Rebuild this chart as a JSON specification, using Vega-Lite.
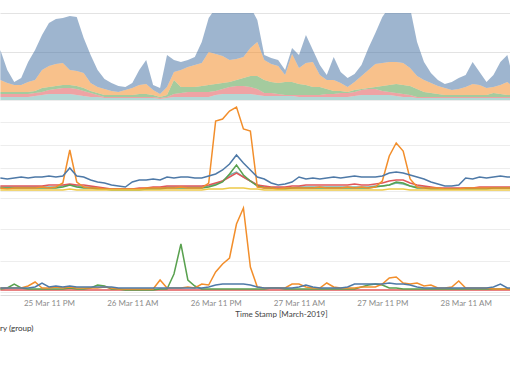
{
"$schema": "https://vega.github.io/schema/vega-lite/v6.json",
"padding": {"top": 13, "left": 0, "right": 0, "bottom": 0},
"background": "white",
"spacing": 0,
"title": {"text": "ry (group)", "orient": "bottom", "anchor": "start", "fontSize": 8, "fontWeight": "normal", "color": "#333333", "font": "Lato", "offset": 7},
"datasets": {
"area": [
{"t":"2019-03-25T16:00","A":3,"B":3,"C":2,"D":12,"E":30},
{"t":"2019-03-25T17:00","A":3,"B":3,"C":2,"D":9,"E":13},
{"t":"2019-03-25T18:00","A":3,"B":3,"C":2,"D":7,"E":3},
{"t":"2019-03-25T19:00","A":3,"B":3,"C":2,"D":7,"E":7},
{"t":"2019-03-25T20:00","A":3,"B":3,"C":2,"D":10,"E":20},
{"t":"2019-03-25T21:00","A":4,"B":3,"C":2,"D":11,"E":30},
{"t":"2019-03-25T22:00","A":5,"B":3,"C":4,"D":18,"E":35},
{"t":"2019-03-25T23:00","A":6,"B":4,"C":3,"D":21,"E":43},
{"t":"2019-03-26T00:00","A":6,"B":5,"C":3,"D":22,"E":45},
{"t":"2019-03-26T01:00","A":6,"B":6,"C":3,"D":22,"E":45},
{"t":"2019-03-26T02:00","A":6,"B":6,"C":3,"D":15,"E":54},
{"t":"2019-03-26T03:00","A":5,"B":6,"C":3,"D":15,"E":54},
{"t":"2019-03-26T04:00","A":4,"B":5,"C":3,"D":15,"E":35},
{"t":"2019-03-26T05:00","A":3,"B":4,"C":2,"D":8,"E":28},
{"t":"2019-03-26T06:00","A":3,"B":2,"C":2,"D":6,"E":17},
{"t":"2019-03-26T07:00","A":2,"B":1,"C":2,"D":6,"E":10},
{"t":"2019-03-26T08:00","A":2,"B":1,"C":2,"D":4,"E":8},
{"t":"2019-03-26T09:00","A":2,"B":1,"C":2,"D":3,"E":6},
{"t":"2019-03-26T10:00","A":2,"B":1,"C":2,"D":5,"E":3},
{"t":"2019-03-26T11:00","A":2,"B":1,"C":2,"D":7,"E":5},
{"t":"2019-03-26T12:00","A":2,"B":1,"C":3,"D":9,"E":15},
{"t":"2019-03-26T13:00","A":2,"B":1,"C":3,"D":10,"E":24},
{"t":"2019-03-26T14:00","A":2,"B":1,"C":2,"D":5,"E":5},
{"t":"2019-03-26T15:00","A":1,"B":1,"C":1,"D":3,"E":6},
{"t":"2019-03-26T16:00","A":2,"B":1,"C":2,"D":8,"E":32},
{"t":"2019-03-26T17:00","A":3,"B":3,"C":14,"D":8,"E":12},
{"t":"2019-03-26T18:00","A":3,"B":4,"C":6,"D":17,"E":8},
{"t":"2019-03-26T19:00","A":3,"B":5,"C":5,"D":20,"E":7},
{"t":"2019-03-26T20:00","A":3,"B":5,"C":5,"D":22,"E":8},
{"t":"2019-03-26T21:00","A":3,"B":5,"C":6,"D":23,"E":21},
{"t":"2019-03-26T22:00","A":3,"B":5,"C":7,"D":33,"E":34},
{"t":"2019-03-26T23:00","A":5,"B":4,"C":7,"D":30,"E":46},
{"t":"2019-03-27T00:00","A":6,"B":5,"C":6,"D":27,"E":51},
{"t":"2019-03-27T01:00","A":6,"B":7,"C":5,"D":22,"E":56},
{"t":"2019-03-27T02:00","A":6,"B":8,"C":6,"D":21,"E":56},
{"t":"2019-03-27T03:00","A":6,"B":8,"C":8,"D":21,"E":52},
{"t":"2019-03-27T04:00","A":6,"B":7,"C":11,"D":28,"E":41},
{"t":"2019-03-27T05:00","A":5,"B":6,"C":13,"D":34,"E":22},
{"t":"2019-03-27T06:00","A":4,"B":3,"C":13,"D":20,"E":5},
{"t":"2019-03-27T07:00","A":4,"B":3,"C":11,"D":18,"E":6},
{"t":"2019-03-27T08:00","A":4,"B":2,"C":11,"D":17,"E":6},
{"t":"2019-03-27T09:00","A":4,"B":1,"C":13,"D":7,"E":5},
{"t":"2019-03-27T10:00","A":4,"B":1,"C":13,"D":28,"E":6},
{"t":"2019-03-27T11:00","A":3,"B":2,"C":11,"D":16,"E":13},
{"t":"2019-03-27T12:00","A":3,"B":2,"C":10,"D":22,"E":28},
{"t":"2019-03-27T13:00","A":3,"B":2,"C":8,"D":25,"E":12},
{"t":"2019-03-27T14:00","A":3,"B":2,"C":8,"D":12,"E":10},
{"t":"2019-03-27T15:00","A":3,"B":3,"C":5,"D":9,"E":5},
{"t":"2019-03-27T16:00","A":3,"B":3,"C":3,"D":11,"E":23},
{"t":"2019-03-27T17:00","A":3,"B":4,"C":2,"D":8,"E":11},
{"t":"2019-03-27T18:00","A":3,"B":4,"C":1,"D":5,"E":9},
{"t":"2019-03-27T19:00","A":4,"B":4,"C":2,"D":8,"E":8},
{"t":"2019-03-27T20:00","A":5,"B":5,"C":1,"D":13,"E":11},
{"t":"2019-03-27T21:00","A":5,"B":6,"C":1,"D":18,"E":22},
{"t":"2019-03-27T22:00","A":5,"B":6,"C":2,"D":23,"E":31},
{"t":"2019-03-27T23:00","A":5,"B":4,"C":5,"D":23,"E":46},
{"t":"2019-03-28T00:00","A":5,"B":3,"C":7,"D":23,"E":55},
{"t":"2019-03-28T01:00","A":4,"B":3,"C":9,"D":22,"E":58},
{"t":"2019-03-28T02:00","A":3,"B":3,"C":9,"D":22,"E":58},
{"t":"2019-03-28T03:00","A":3,"B":2,"C":9,"D":18,"E":60},
{"t":"2019-03-28T04:00","A":2,"B":1,"C":8,"D":13,"E":34},
{"t":"2019-03-28T05:00","A":2,"B":1,"C":5,"D":12,"E":18},
{"t":"2019-03-28T06:00","A":2,"B":1,"C":4,"D":10,"E":10},
{"t":"2019-03-28T07:00","A":2,"B":1,"C":3,"D":8,"E":6},
{"t":"2019-03-28T08:00","A":2,"B":1,"C":2,"D":7,"E":4},
{"t":"2019-03-28T09:00","A":2,"B":1,"C":2,"D":5,"E":8},
{"t":"2019-03-28T10:00","A":2,"B":1,"C":2,"D":6,"E":11},
{"t":"2019-03-28T11:00","A":2,"B":1,"C":2,"D":8,"E":12},
{"t":"2019-03-28T12:00","A":2,"B":1,"C":2,"D":11,"E":22},
{"t":"2019-03-28T13:00","A":2,"B":1,"C":2,"D":10,"E":13},
{"t":"2019-03-28T14:00","A":2,"B":1,"C":2,"D":7,"E":6},
{"t":"2019-03-28T15:00","A":2,"B":1,"C":4,"D":6,"E":12},
{"t":"2019-03-28T16:00","A":2,"B":1,"C":3,"D":9,"E":23},
{"t":"2019-03-28T17:00","A":2,"B":1,"C":2,"D":13,"E":27},
{"t":"2019-03-28T18:00","A":2,"B":1,"C":2,"D":7,"E":5}
],
"lines": [
{"t":"2019-03-25T16:00","A":4,"B":5,"C":3,"D":3,"E":13,"F":1},
{"t":"2019-03-25T17:00","A":4,"B":5,"C":3,"D":2,"E":12,"F":1},
{"t":"2019-03-25T18:00","A":4,"B":5,"C":3,"D":3,"E":13,"F":1},
{"t":"2019-03-25T19:00","A":4,"B":5,"C":3,"D":3,"E":14,"F":1},
{"t":"2019-03-25T20:00","A":4,"B":5,"C":3,"D":3,"E":13,"F":1},
{"t":"2019-03-25T21:00","A":4,"B":5,"C":3,"D":3,"E":14,"F":1},
{"t":"2019-03-25T22:00","A":4,"B":5,"C":3,"D":4,"E":14,"F":1},
{"t":"2019-03-25T23:00","A":4,"B":6,"C":3,"D":3,"E":15,"F":1},
{"t":"2019-03-26T00:00","A":4,"B":6,"C":3,"D":4,"E":14,"F":1},
{"t":"2019-03-26T01:00","A":5,"B":6,"C":4,"D":8,"E":15,"F":1},
{"t":"2019-03-26T02:00","A":6,"B":7,"C":6,"D":41,"E":23,"F":2},
{"t":"2019-03-26T03:00","A":5,"B":6,"C":4,"D":9,"E":15,"F":1},
{"t":"2019-03-26T04:00","A":4,"B":6,"C":3,"D":4,"E":14,"F":1},
{"t":"2019-03-26T05:00","A":4,"B":5,"C":3,"D":3,"E":11,"F":1},
{"t":"2019-03-26T06:00","A":3,"B":4,"C":2,"D":3,"E":9,"F":1},
{"t":"2019-03-26T07:00","A":2,"B":3,"C":2,"D":2,"E":8,"F":1},
{"t":"2019-03-26T08:00","A":2,"B":2,"C":1,"D":2,"E":6,"F":1},
{"t":"2019-03-26T09:00","A":2,"B":2,"C":1,"D":2,"E":5,"F":1},
{"t":"2019-03-26T10:00","A":2,"B":2,"C":1,"D":2,"E":4,"F":1},
{"t":"2019-03-26T11:00","A":2,"B":2,"C":1,"D":2,"E":9,"F":1},
{"t":"2019-03-26T12:00","A":2,"B":3,"C":1,"D":2,"E":11,"F":1},
{"t":"2019-03-26T13:00","A":2,"B":3,"C":2,"D":3,"E":11,"F":1},
{"t":"2019-03-26T14:00","A":3,"B":4,"C":2,"D":3,"E":12,"F":1},
{"t":"2019-03-26T15:00","A":3,"B":4,"C":2,"D":3,"E":11,"F":1},
{"t":"2019-03-26T16:00","A":4,"B":5,"C":3,"D":3,"E":14,"F":1},
{"t":"2019-03-26T17:00","A":4,"B":5,"C":3,"D":3,"E":13,"F":1},
{"t":"2019-03-26T18:00","A":4,"B":5,"C":3,"D":4,"E":14,"F":1},
{"t":"2019-03-26T19:00","A":4,"B":5,"C":3,"D":3,"E":14,"F":1},
{"t":"2019-03-26T20:00","A":4,"B":5,"C":3,"D":3,"E":13,"F":1},
{"t":"2019-03-26T21:00","A":4,"B":5,"C":3,"D":3,"E":13,"F":1},
{"t":"2019-03-26T22:00","A":5,"B":6,"C":4,"D":8,"E":15,"F":2},
{"t":"2019-03-26T23:00","A":7,"B":8,"C":6,"D":70,"E":17,"F":2},
{"t":"2019-03-27T00:00","A":10,"B":10,"C":9,"D":72,"E":21,"F":2},
{"t":"2019-03-27T01:00","A":16,"B":14,"C":17,"D":80,"E":27,"F":3},
{"t":"2019-03-27T02:00","A":19,"B":18,"C":26,"D":84,"E":36,"F":3},
{"t":"2019-03-27T03:00","A":14,"B":14,"C":16,"D":62,"E":28,"F":3},
{"t":"2019-03-27T04:00","A":10,"B":10,"C":10,"D":60,"E":21,"F":2},
{"t":"2019-03-27T05:00","A":6,"B":6,"C":5,"D":4,"E":14,"F":2},
{"t":"2019-03-27T06:00","A":4,"B":5,"C":3,"D":3,"E":12,"F":1},
{"t":"2019-03-27T07:00","A":3,"B":4,"C":3,"D":3,"E":8,"F":1},
{"t":"2019-03-27T08:00","A":3,"B":4,"C":2,"D":2,"E":6,"F":1},
{"t":"2019-03-27T09:00","A":3,"B":4,"C":2,"D":3,"E":7,"F":1},
{"t":"2019-03-27T10:00","A":3,"B":5,"C":3,"D":3,"E":9,"F":1},
{"t":"2019-03-27T11:00","A":4,"B":5,"C":3,"D":3,"E":14,"F":1},
{"t":"2019-03-27T12:00","A":4,"B":6,"C":3,"D":3,"E":12,"F":1},
{"t":"2019-03-27T13:00","A":4,"B":6,"C":3,"D":3,"E":13,"F":1},
{"t":"2019-03-27T14:00","A":4,"B":6,"C":3,"D":4,"E":12,"F":1},
{"t":"2019-03-27T15:00","A":4,"B":6,"C":3,"D":3,"E":13,"F":1},
{"t":"2019-03-27T16:00","A":4,"B":6,"C":3,"D":3,"E":14,"F":1},
{"t":"2019-03-27T17:00","A":4,"B":6,"C":3,"D":3,"E":13,"F":1},
{"t":"2019-03-27T18:00","A":4,"B":6,"C":3,"D":4,"E":14,"F":1},
{"t":"2019-03-27T19:00","A":4,"B":7,"C":3,"D":3,"E":15,"F":1},
{"t":"2019-03-27T20:00","A":4,"B":6,"C":3,"D":4,"E":14,"F":1},
{"t":"2019-03-27T21:00","A":4,"B":6,"C":3,"D":3,"E":14,"F":1},
{"t":"2019-03-27T22:00","A":5,"B":7,"C":4,"D":4,"E":14,"F":1},
{"t":"2019-03-27T23:00","A":5,"B":8,"C":5,"D":10,"E":15,"F":1},
{"t":"2019-03-28T00:00","A":6,"B":10,"C":6,"D":35,"E":18,"F":2},
{"t":"2019-03-28T01:00","A":8,"B":11,"C":9,"D":48,"E":19,"F":2},
{"t":"2019-03-28T02:00","A":7,"B":11,"C":8,"D":40,"E":18,"F":2},
{"t":"2019-03-28T03:00","A":5,"B":8,"C":5,"D":12,"E":16,"F":1},
{"t":"2019-03-28T04:00","A":4,"B":6,"C":3,"D":4,"E":14,"F":1},
{"t":"2019-03-28T05:00","A":4,"B":5,"C":3,"D":3,"E":12,"F":1},
{"t":"2019-03-28T06:00","A":3,"B":4,"C":2,"D":3,"E":9,"F":1},
{"t":"2019-03-28T07:00","A":3,"B":3,"C":2,"D":3,"E":7,"F":1},
{"t":"2019-03-28T08:00","A":2,"B":3,"C":2,"D":2,"E":5,"F":1},
{"t":"2019-03-28T09:00","A":2,"B":3,"C":2,"D":2,"E":5,"F":1},
{"t":"2019-03-28T10:00","A":2,"B":3,"C":2,"D":2,"E":6,"F":1},
{"t":"2019-03-28T11:00","A":3,"B":3,"C":2,"D":3,"E":13,"F":1},
{"t":"2019-03-28T12:00","A":3,"B":3,"C":2,"D":3,"E":12,"F":1},
{"t":"2019-03-28T13:00","A":3,"B":4,"C":2,"D":3,"E":14,"F":1},
{"t":"2019-03-28T14:00","A":3,"B":4,"C":2,"D":3,"E":13,"F":1},
{"t":"2019-03-28T15:00","A":3,"B":4,"C":3,"D":3,"E":14,"F":1},
{"t":"2019-03-28T16:00","A":3,"B":4,"C":3,"D":3,"E":15,"F":1},
{"t":"2019-03-28T17:00","A":3,"B":4,"C":3,"D":3,"E":14,"F":1},
{"t":"2019-03-28T18:00","A":3,"B":4,"C":3,"D":3,"E":14,"F":1}
],
"spikes": [
{"t":"2019-03-25T16:00","B":2,"C":3,"D":4,"E":4},
{"t":"2019-03-25T17:00","B":2,"C":4,"D":4,"E":4},
{"t":"2019-03-25T18:00","B":2,"C":8,"D":4,"E":4},
{"t":"2019-03-25T19:00","B":2,"C":4,"D":4,"E":4},
{"t":"2019-03-25T20:00","B":2,"C":3,"D":6,"E":4},
{"t":"2019-03-25T21:00","B":2,"C":3,"D":10,"E":5},
{"t":"2019-03-25T22:00","B":2,"C":3,"D":4,"E":9},
{"t":"2019-03-25T23:00","B":2,"C":3,"D":4,"E":5},
{"t":"2019-03-26T00:00","B":2,"C":3,"D":5,"E":6},
{"t":"2019-03-26T01:00","B":2,"C":3,"D":4,"E":5},
{"t":"2019-03-26T02:00","B":2,"C":4,"D":5,"E":6},
{"t":"2019-03-26T03:00","B":2,"C":3,"D":4,"E":5},
{"t":"2019-03-26T04:00","B":2,"C":3,"D":4,"E":5},
{"t":"2019-03-26T05:00","B":2,"C":4,"D":4,"E":5},
{"t":"2019-03-26T06:00","B":2,"C":7,"D":4,"E":5},
{"t":"2019-03-26T07:00","B":2,"C":6,"D":5,"E":5},
{"t":"2019-03-26T08:00","B":2,"C":3,"D":4,"E":5},
{"t":"2019-03-26T09:00","B":2,"C":3,"D":3,"E":4},
{"t":"2019-03-26T10:00","B":2,"C":2,"D":3,"E":4},
{"t":"2019-03-26T11:00","B":2,"C":2,"D":3,"E":4},
{"t":"2019-03-26T12:00","B":2,"C":2,"D":3,"E":4},
{"t":"2019-03-26T13:00","B":2,"C":2,"D":3,"E":4},
{"t":"2019-03-26T14:00","B":2,"C":2,"D":3,"E":4},
{"t":"2019-03-26T15:00","B":2,"C":3,"D":12,"E":4},
{"t":"2019-03-26T16:00","B":2,"C":3,"D":4,"E":4},
{"t":"2019-03-26T17:00","B":2,"C":18,"D":4,"E":4},
{"t":"2019-03-26T18:00","B":2,"C":48,"D":4,"E":4},
{"t":"2019-03-26T19:00","B":2,"C":12,"D":5,"E":4},
{"t":"2019-03-26T20:00","B":2,"C":6,"D":4,"E":4},
{"t":"2019-03-26T21:00","B":2,"C":3,"D":8,"E":4},
{"t":"2019-03-26T22:00","B":2,"C":3,"D":7,"E":5},
{"t":"2019-03-26T23:00","B":2,"C":3,"D":20,"E":7},
{"t":"2019-03-27T00:00","B":2,"C":3,"D":28,"E":8},
{"t":"2019-03-27T01:00","B":2,"C":3,"D":34,"E":8},
{"t":"2019-03-27T02:00","B":2,"C":3,"D":68,"E":8},
{"t":"2019-03-27T03:00","B":2,"C":3,"D":84,"E":8},
{"t":"2019-03-27T04:00","B":2,"C":3,"D":25,"E":7},
{"t":"2019-03-27T05:00","B":2,"C":3,"D":5,"E":5},
{"t":"2019-03-27T06:00","B":2,"C":3,"D":4,"E":4},
{"t":"2019-03-27T07:00","B":2,"C":4,"D":4,"E":4},
{"t":"2019-03-27T08:00","B":2,"C":4,"D":4,"E":4},
{"t":"2019-03-27T09:00","B":2,"C":3,"D":4,"E":4},
{"t":"2019-03-27T10:00","B":2,"C":3,"D":8,"E":4},
{"t":"2019-03-27T11:00","B":2,"C":3,"D":8,"E":5},
{"t":"2019-03-27T12:00","B":2,"C":3,"D":5,"E":7},
{"t":"2019-03-27T13:00","B":2,"C":3,"D":4,"E":5},
{"t":"2019-03-27T14:00","B":2,"C":3,"D":4,"E":4},
{"t":"2019-03-27T15:00","B":2,"C":3,"D":9,"E":4},
{"t":"2019-03-27T16:00","B":2,"C":3,"D":5,"E":4},
{"t":"2019-03-27T17:00","B":2,"C":3,"D":4,"E":4},
{"t":"2019-03-27T18:00","B":2,"C":3,"D":4,"E":5},
{"t":"2019-03-27T19:00","B":2,"C":3,"D":4,"E":8},
{"t":"2019-03-27T20:00","B":2,"C":5,"D":5,"E":8},
{"t":"2019-03-27T21:00","B":2,"C":7,"D":5,"E":8},
{"t":"2019-03-27T22:00","B":2,"C":8,"D":5,"E":8},
{"t":"2019-03-27T23:00","B":2,"C":7,"D":8,"E":8},
{"t":"2019-03-28T00:00","B":2,"C":4,"D":14,"E":9},
{"t":"2019-03-28T01:00","B":2,"C":4,"D":15,"E":8},
{"t":"2019-03-28T02:00","B":2,"C":3,"D":9,"E":8},
{"t":"2019-03-28T03:00","B":2,"C":3,"D":8,"E":7},
{"t":"2019-03-28T04:00","B":2,"C":3,"D":9,"E":5},
{"t":"2019-03-28T05:00","B":2,"C":3,"D":6,"E":4},
{"t":"2019-03-28T06:00","B":2,"C":3,"D":7,"E":4},
{"t":"2019-03-28T07:00","B":2,"C":3,"D":4,"E":4},
{"t":"2019-03-28T08:00","B":2,"C":3,"D":4,"E":4},
{"t":"2019-03-28T09:00","B":2,"C":3,"D":5,"E":4},
{"t":"2019-03-28T10:00","B":2,"C":3,"D":11,"E":4},
{"t":"2019-03-28T11:00","B":2,"C":3,"D":4,"E":4},
{"t":"2019-03-28T12:00","B":2,"C":3,"D":4,"E":4},
{"t":"2019-03-28T13:00","B":2,"C":3,"D":4,"E":4},
{"t":"2019-03-28T14:00","B":2,"C":3,"D":4,"E":4},
{"t":"2019-03-28T15:00","B":2,"C":3,"D":3,"E":5},
{"t":"2019-03-28T16:00","B":2,"C":3,"D":3,"E":8},
{"t":"2019-03-28T17:00","B":2,"C":3,"D":3,"E":4},
{"t":"2019-03-28T18:00","B":2,"C":3,"D":3,"E":4}
]
},
"vconcat": [
{
"width": 510, "height": 87,
"data": {"name": "area"},
"transform": [{"fold": ["A","B","C","D","E"], "as": ["cat","v"]}],
"mark": {"type": "area", "clip": true, "fillOpacity": 0.55},
"encoding": {
"x": {"field": "t", "type": "temporal", "scale": {"domain": [{"year":2019,"month":3,"date":25,"hours":15,"minutes":57},{"year":2019,"month":3,"date":28,"hours":17,"minutes":23}]}, "axis": null},
"y": {"field": "v", "type": "quantitative", "stack": "zero", "scale": {"domain": [0,87], "nice": false}, "axis": {"title": null, "labels": false, "ticks": false, "domain": false, "grid": true, "gridColor": "#e3e3e3", "values": [0,48,87], "minExtent": 0, "maxExtent": 0}},
"color": {"field": "cat", "type": "nominal", "scale": {"domain": ["A","B","C","D","E","F"], "range": ["#76b7b2","#e15759","#59a14f","#f28e2b","#4e79a7","#edc948"]}, "legend": null},
"order": {"field": "cat", "sort": "ascending"}
}
},
{
"width": 510, "height": 91,
"data": {"name": "lines"},
"transform": [{"fold": ["A","B","C","D","E","F"], "as": ["cat","v"]}],
"mark": {"type": "line", "clip": true, "strokeWidth": 1.5},
"encoding": {
"x": {"field": "t", "type": "temporal", "scale": {"domain": [{"year":2019,"month":3,"date":25,"hours":15,"minutes":57},{"year":2019,"month":3,"date":28,"hours":17,"minutes":23}]}, "axis": null},
"y": {"field": "v", "type": "quantitative", "scale": {"domain": [0,91], "nice": false}, "axis": {"title": null, "labels": false, "ticks": false, "domain": false, "grid": true, "gridColor": "#ededed", "values": [0,23,46,69,91], "minExtent": 0, "maxExtent": 0}},
"color": {"field": "cat", "type": "nominal", "scale": {"domain": ["A","B","C","D","E","F"], "range": ["#76b7b2","#e15759","#59a14f","#f28e2b","#4e79a7","#edc948"]}, "legend": null}
}
},
{
"width": 510, "height": 104,
"data": {"name": "spikes"},
"transform": [{"fold": ["B","C","D","E"], "as": ["cat","v"]}],
"mark": {"type": "line", "clip": true, "strokeWidth": 1.5},
"encoding": {
"x": {"field": "t", "type": "temporal", "scale": {"domain": [{"year":2019,"month":3,"date":25,"hours":15,"minutes":57},{"year":2019,"month":3,"date":28,"hours":17,"minutes":23}]},
 "axis": {"values": [{"year":2019,"month":3,"date":25,"hours":23},{"year":2019,"month":3,"date":26,"hours":11},{"year":2019,"month":3,"date":26,"hours":23},{"year":2019,"month":3,"date":27,"hours":11},{"year":2019,"month":3,"date":27,"hours":23},{"year":2019,"month":3,"date":28,"hours":11}],
  "format": "%d %b %I %p", "labelFontSize": 8, "labelColor": "#8c8c8c", "labelFont": "Lato", "ticks": false, "domainColor": "#dcdcdc", "labelPadding": 4, "labelOverlap": false, "labelFlush": false, "grid": false,
  "title": "Time Stamp [March-2019]", "titleFontSize": 8, "titleFontWeight": "normal", "titleColor": "#444444", "titleFont": "Lato", "titlePadding": 3, "titleX": 281}},
"y": {"field": "v", "type": "quantitative", "scale": {"domain": [-3,101], "nice": false, "zero": false}, "axis": {"title": null, "labels": false, "ticks": false, "domain": false, "grid": true, "gridColor": "#ededed", "values": [0,31.5,63,94.5], "minExtent": 0, "maxExtent": 0}},
"color": {"field": "cat", "type": "nominal", "scale": {"domain": ["A","B","C","D","E","F"], "range": ["#76b7b2","#e15759","#59a14f","#f28e2b","#4e79a7","#edc948"]}, "legend": null}
}
}
],
"config": {"view": {"stroke": null}, "font": "Lato"}
}
